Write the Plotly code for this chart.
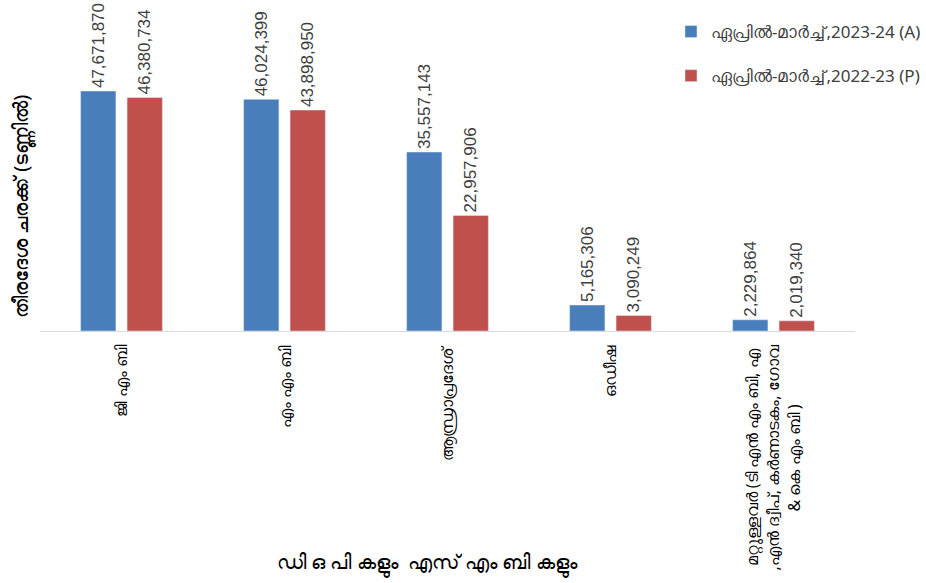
import plotly.graph_objects as go

categories = [
    "ജി എം ബി",
    "എം എം ബി",
    "ആന്ധ്രാപ്രദേശ്",
    "ഒഡീഷ",
    "മറ്റുള്ളവർ (ടി എൻ എം ബി, എ<br>,എൻ ദ്വീപ്, കർണാടകം, ഗോവ<br>& കെ എം ബി )",
]
series_names = ["ഏപ്രിൽ-മാർച്ച്,2023-24 (A)", "ഏപ്രിൽ-മാർച്ച്,2022-23 (P)"]
values_2023_24 = [47671870, 46024399, 35557143, 5165306, 2229864]
values_2022_23 = [46380734, 43898950, 22957906, 3090249, 2019340]
colors = ["#4a7ebb", "#c0504d"]

y_title = "തീരദേശ ചരക്ക് (ടണ്ണിൽ)"
x_title = "ഡി ഒ പി കളും  എസ്‌ എം ബി കളും"

fig = go.Figure()
for name, vals, col, grp in [
    (series_names[0], values_2023_24, colors[0], "a"),
    (series_names[1], values_2022_23, colors[1], "b"),
]:
    fig.add_trace(go.Bar(
        x=categories, y=vals, name=name, marker_color=col, legendgroup=grp,
        text=[f"{v:,}" for v in vals], textposition="outside", textangle=-90,
        constraintext="none", cliponaxis=False,
        textfont=dict(family="Liberation Sans, Arial", size=17, color="#404040"),
    ))

annotations = [
    dict(text=y_title, xref="paper", yref="paper", x=-0.0233, y=0.41,
         textangle=-90, showarrow=False, xanchor="center", yanchor="middle",
         font=dict(size=20, color="#000000")),
    dict(text=x_title, xref="paper", yref="paper", x=0.476, y=-0.768,
         showarrow=False, xanchor="center", yanchor="middle",
         font=dict(size=20, color="#000000")),
]
for c in categories:
    annotations.append(dict(
        text=c, xref="x", yref="paper", x=c, y=-0.04, textangle=-90,
        showarrow=False, xanchor="center", yanchor="top", align="center",
        font=dict(size=16, color="#000000")))

fig.update_layout(
    width=926, height=583,
    margin=dict(l=40, r=71, t=29, b=252, autoexpand=False),
    paper_bgcolor="white", plot_bgcolor="white",
    barmode="group", bargap=0.43, bargroupgap=0.24,
    font=dict(family="Noto Sans, Liberation Sans, Arial", color="#404040"),
    showlegend=True,
    legend=dict(x=0.7742, y=1.0497, xanchor="left", yanchor="top",
                font=dict(size=17, color="#404040"), tracegroupgap=19,
                bgcolor="rgba(0,0,0,0)", itemwidth=30),
    xaxis=dict(showline=True, linecolor="#d9d9d9", linewidth=1, ticks="",
               showticklabels=False, showgrid=False),
    yaxis=dict(range=[0, 60000000], showticklabels=False, showgrid=False,
               zeroline=False, showline=False),
    annotations=annotations,
)

# remove the page's default body margin so the figure fills the window exactly
fig.write_html("out.html", config={"displayModeBar": False},
               post_script="document.body.style.margin='0';")
